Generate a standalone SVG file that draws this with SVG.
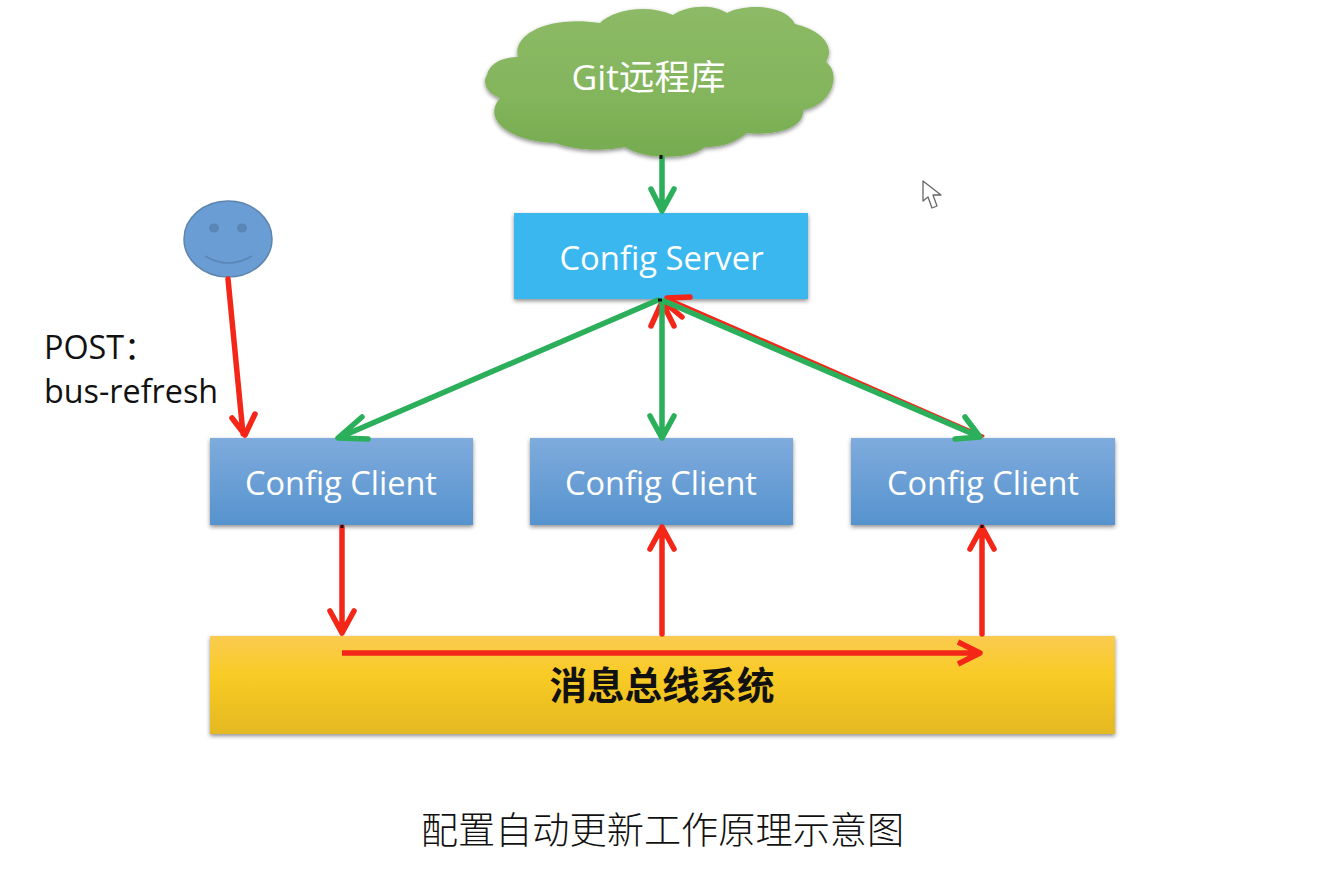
<svg xmlns="http://www.w3.org/2000/svg" width="1336" height="880" viewBox="0 0 1336 880">
<style>
.w{fill:#fff;font-family:"Open Sans","Noto Sans CJK SC",sans-serif;font-size:32.5px;text-anchor:middle}
.k{fill:#111;font-family:"Open Sans","Noto Sans CJK SC",sans-serif;font-size:32.3px}
.g{fill:none;stroke:#2BAF5B;stroke-width:5.5;stroke-linecap:round;stroke-linejoin:round}
.r{fill:none;stroke:#F32618;stroke-width:5.5;stroke-linecap:round;stroke-linejoin:round}
</style>
<defs>
<linearGradient id="cl" x1="0" y1="0" x2="0" y2="1"><stop offset="0" stop-color="#8DBA66"/><stop offset="0.6" stop-color="#83B55C"/><stop offset="1" stop-color="#76AB50"/></linearGradient>
<linearGradient id="bl" x1="0" y1="0" x2="0" y2="1"><stop offset="0" stop-color="#7FABDD"/><stop offset="1" stop-color="#5693CE"/></linearGradient>
<linearGradient id="ye" x1="0" y1="0" x2="0" y2="1"><stop offset="0" stop-color="#FACB50"/><stop offset="0.4" stop-color="#F9CB25"/><stop offset="1" stop-color="#E4B822"/></linearGradient>
<filter id="sh" x="-5%" y="-10%" width="110%" height="125%"><feDropShadow dx="0" dy="2" stdDeviation="2" flood-color="#000" flood-opacity="0.45"/></filter>
</defs>
<rect width="1336" height="880" fill="#fff"/>
<g id="cloud">
<path filter="url(#sh)" fill="url(#cl)" d="M487 75C490 62 505 57 518 57C512 36 545 15 600 23C612 11 645 3 673 15C685 6 712 3 727 13C742 4 785 3 795 24C820 30 836 45 826 62C842 74 832 105 803 110C805 130 770 136 747 133C732 145 718 147 705 147C690 160 645 160 625 147C600 152 575 150 555 143C515 142 480 122 500 98C484 92 483 80 487 75Z"/>
<text class="w" x="648.500" y="90" style="font-size:35.500px">Git远程库</text>
</g>
<g id="server">
<rect x="514" y="213" width="294" height="86" fill="#3BB7F0" filter="url(#sh)"/>
<text class="w" x="661.500" y="270" style="font-size:32.800px">Config Server</text>
</g>
<g id="user">
<ellipse cx="228" cy="239" rx="44" ry="38" fill="#6A9DD4" stroke="#5C84AE" stroke-width="1.500"/>
<ellipse cx="214" cy="228" rx="5" ry="4.500" fill="#5A86B5"/>
<ellipse cx="242" cy="228" rx="5" ry="4.500" fill="#5A86B5"/>
<path d="M205 256Q228 270 252 256" fill="none" stroke="#5A86B5" stroke-width="1.500"/>
</g>
<g id="post-label">
<text class="k" x="44" y="359">POST：</text>
<text class="k" x="44" y="403">bus-refresh</text>
</g>
<g id="client1">
<rect x="210" y="438" width="263" height="87" fill="url(#bl)" filter="url(#sh)"/>
<text class="w" x="341" y="495">Config Client</text>
</g>
<g id="client2">
<rect x="530" y="438" width="263" height="87" fill="url(#bl)" filter="url(#sh)"/>
<text class="w" x="661" y="495">Config Client</text>
</g>
<g id="client3">
<rect x="851" y="438" width="264" height="87" fill="url(#bl)" filter="url(#sh)"/>
<text class="w" x="983" y="495">Config Client</text>
</g>
<g id="bus">
<rect x="210" y="636" width="905" height="98" fill="url(#ye)" filter="url(#sh)"/>
<text x="662" y="699" text-anchor="middle" fill="#111" font-weight="700" style="font-family:'Noto Sans CJK SC',sans-serif;font-size:37.500px">消息总线系统</text>
</g>
<g id="caption">
<text x="662.500" y="844" text-anchor="middle" fill="#111" style="font-family:'Noto Sans CJK SC',sans-serif;font-size:37.200px;font-weight:300">配置自动更新工作原理示意图</text>
</g>
<g id="cursor">
<path d="M923 181V201L928 197L932 208L937 206L933 195L941 195Z" fill="#fff" stroke="#666" stroke-width="1.300" stroke-linejoin="round"/>
</g>
<g id="connectors">
<path class="r" d="M228 279L243 434M232 418L245 435L255 414"/>
<path class="r" d="M342 527V633M330 611L342 633L354 611"/>
<path class="r" d="M342 653H979M958 642L980 653L958 664" style="stroke-linecap:butt"/>
<path class="r" d="M662 634V528M650 549L662 527L674 549"/>
<path class="r" d="M982 634V528M970 549L982 527L994 549"/>
<path class="r" d="M983 436L667 298" style="stroke-width:3"/>
<path class="r" d="M667 298L690 297M651 326L662 302L674 326M664 302L682 317"/>
<path class="g" d="M662 158V210M651 189L662 211L674 189"/>
<path class="g" d="M658 300L338 438M362 417L338 438L368 439"/>
<path class="g" d="M662 302V436M650 416L662 438L674 416"/>
<path class="g" d="M664 301L980 437M955 439L980 437L965 417"/>
<path d="M661 155V159M342 525V528M982 525V528M658 300H662" stroke="#111" stroke-width="3" fill="none"/>
</g>
</svg>
